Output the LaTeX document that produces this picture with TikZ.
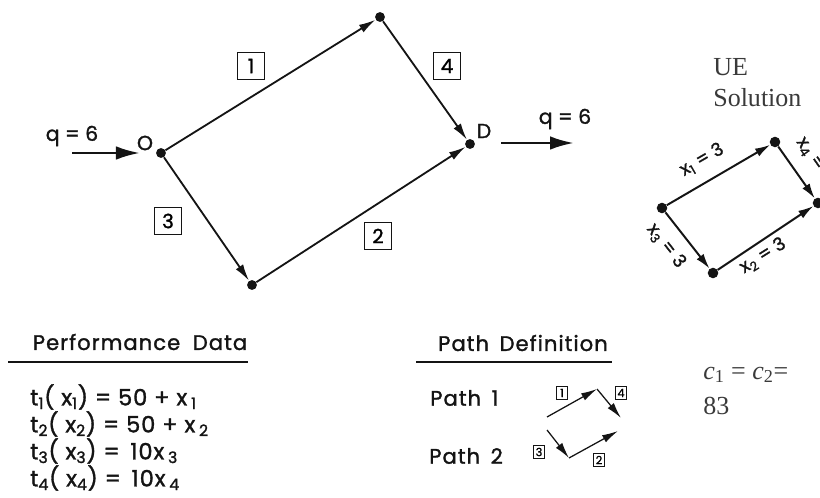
\documentclass[tikz,border=0pt]{standalone}
\usepackage{fontspec}
\setmainfont{Liberation Serif}
\newfontfamily\letterfont{Poppins}[FakeBold=1.4]
\usetikzlibrary{arrows.meta,positioning}
\definecolor{Ink}{HTML}{141414}
\definecolor{Grey}{HTML}{3A3A3A}
\tikzset{
  dot/.style={circle, fill=Ink, inner sep=0pt, minimum size=7pt},
  uedot/.style={circle, fill=Ink, inner sep=0pt, minimum size=7.5pt},
  numbox/.style={draw=Ink, line width=0.9pt, minimum size=19pt, inner sep=0pt, font=\letterfont\fontsize{14}{14}\selectfont},
  tinybox/.style={draw=Ink, line width=0.7pt, minimum width=8pt, minimum height=9.5pt, inner sep=0pt, font=\letterfont\fontsize{8}{8}\selectfont},
  letter/.style={font=\letterfont\fontsize{14.5}{14.5}\selectfont, text=Ink, inner sep=0pt},
  heading/.style={font=\letterfont\fontsize{15}{15}\selectfont\addfontfeature{LetterSpace=5}, text=Ink, inner sep=0pt},
  eqn/.style={font=\letterfont\fontsize{16}{16}\selectfont\addfontfeature{LetterSpace=4}, text=Ink, inner sep=0pt, anchor=west},
  flowlbl/.style={font=\letterfont\fontsize{13}{13}\selectfont, text=Ink, inner sep=0pt},
  serif/.style={font=\fontsize{18.5}{18.5}\selectfont, text=Grey, inner sep=0pt, anchor=west},
  arr/.style={-{Latex[length=4.2mm,width=2.2mm]}, line width=1.3pt, draw=Ink},
  bigarr/.style={-{Latex[length=6mm,width=3.4mm]}, line width=2pt, draw=Ink},
  uearr/.style={-{Latex[length=3.8mm,width=2.2mm]}, line width=1.4pt, draw=Ink},
  tinyarr/.style={-{Latex[length=4mm,width=2mm]}, line width=0.9pt, draw=Ink},
  rule/.style={line width=1.8pt, draw=Ink}
}

\begin{document}
\begin{tikzpicture}[x=0.025cm, y=-0.025cm]
\clip (0,0) rectangle (820,498);

% network
\node[dot] (O) at (161,153) {};
\node[dot] (A) at (380,17) {};
\node[dot] (D) at (470,144) {};
\node[dot] (B) at (252,285) {};
\node[letter] (Olbl) at (145,143) {O};
\node[letter] (Dlbl) at (484,131) {D};
\draw[arr] (O) -- (A);
\draw[arr] (A) -- (D);
\draw[arr] (O) -- (B);
\draw[arr] (B) -- (D);
\node[numbox] (n1) at (251,66) {1};
\node[numbox] (n4) at (447,66) {4};
\node[numbox] (n3) at (168,221) {3};
\node[numbox] (n2) at (378,236) {2};

% demand in and out
\coordinate (inS) at (72,153);
\coordinate (inE) at (140,153);
\coordinate (outS) at (501,143);
\coordinate (outE) at (574,143);
\draw[bigarr] (inS) -- (inE);
\draw[bigarr] (outS) -- (outE);
\node[letter] (qin) at (72,136) {q = 6};
\node[letter] (qout) at (565,119) {q = 6};

% UE solution
\node[serif] (ue) at (713,67) {UE};
\node[serif] (sol) at (713,98) {Solution};
\node[uedot] (uL) at (662,208) {};
\node[uedot] (uT) at (775,142) {};
\node[uedot] (uR) at (818,203) {};
\node[uedot] (uB) at (713,273) {};
\draw[uearr] (uL) -- (uT);
\draw[uearr] (uT) -- (uR);
\draw[uearr] (uL) -- (uB);
\draw[uearr] (uB) -- (uR);
\node[flowlbl, rotate=30] (x1) at (702,160) {x\textsubscript{1} = 3};
\node[flowlbl, rotate=32] (x2) at (763,256) {x\textsubscript{2} = 3};
\node[flowlbl, rotate=-52] (x3) at (666,246) {x\textsubscript{3} = 3};
\node[flowlbl, rotate=-55] (x4) at (815,160) {x\textsubscript{4} = 3};

% performance data
\node[heading] (perf) at (140,342) {Performance\hspace{0.6em}Data};
\draw[rule] (8,362) -- (248,362);
\node[eqn] (t1) at (30,397) {t\textsubscript{1}( x\textsubscript{1}) = 50 + x\,\textsubscript{1}};
\node[eqn] (t2) at (30,424) {t\textsubscript{2}( x\textsubscript{2}) = 50 + x\,\textsubscript{2}};
\node[eqn] (t3) at (30,451) {t\textsubscript{3}( x\textsubscript{3}) = \,10x\,\textsubscript{3}};
\node[eqn] (t4) at (30,478) {t\textsubscript{4}( x\textsubscript{4}) = \,10x\,\textsubscript{4}};

% path definition
\node[heading] (pdef) at (523,343) {Path\hspace{0.5em}Definition};
\draw[rule] (416,362) -- (612,362);
\node[heading, anchor=west] (path1) at (430,398) {Path\hspace{0.5em}1};
\node[heading, anchor=west] (path2) at (429,456) {Path\hspace{0.5em}2};
\coordinate (p1a) at (547,417);
\coordinate (p1b) at (597,389);
\coordinate (p1c) at (621,418);
\coordinate (p2a) at (547,430);
\coordinate (p2b) at (569,458);
\coordinate (p2c) at (618,431);
\draw[tinyarr] (p1a) -- (p1b);
\draw[tinyarr] (p1b) -- (p1c);
\draw[tinyarr] (p2a) -- (p2b);
\draw[tinyarr] (p2b) -- (p2c);
\node[tinybox] (s1) at (562,393) {1};
\node[tinybox] (s4) at (621,393) {4};
\node[tinybox] (s3) at (539,452) {3};
\node[tinybox] (s2) at (599,460) {2};

% cost
\node[serif] (cost) at (703,375) {\textit{c}\textsubscript{1} = \textit{c}\textsubscript{2}=};
\node[serif] (val) at (703,406) {83};
\end{tikzpicture}
\end{document}
